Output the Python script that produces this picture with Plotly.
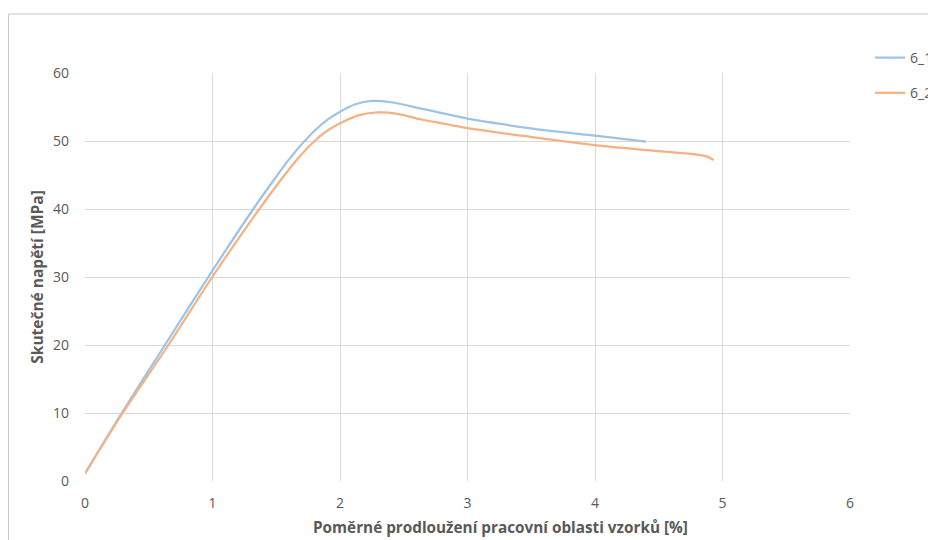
import plotly.graph_objects as go

# Data
strain_6_1 = [0, 0.288, 0.627, 0.967, 1.32, 1.482, 1.6, 1.8, 1.9, 2.0, 2.12, 2.25, 2.4, 2.63, 2.8, 3.0, 3.3, 3.6, 4.0, 4.2, 4.4]
stress_6_1 = [1.1, 10, 20, 30, 40, 44.3, 47.3, 51.5, 53.1, 54.3, 55.4, 55.9, 55.7, 54.8, 54.1, 53.3, 52.4, 51.6, 50.8, 50.35, 49.9]

strain_6_2 = [0, 0.295, 0.654, 0.998, 1.367, 1.537, 1.65, 1.8, 1.9, 2.0, 2.15, 2.30, 2.45, 2.63, 2.8, 3.0, 3.5, 4.0, 4.5, 4.8, 4.88, 4.93]
stress_6_2 = [1.1, 10, 20, 30, 40, 44.3, 47.0, 50, 51.5, 52.6, 53.8, 54.2, 54.0, 53.2, 52.6, 51.9, 50.6, 49.4, 48.5, 48.0, 47.7, 47.2]

series_names = ["6_1", "6_2"]
colors = ["#9DC3E6", "#F4B183"]

x_ticks = [0, 1, 2, 3, 4, 5, 6]
y_ticks = [0, 10, 20, 30, 40, 50, 60]

x_title = "Poměrné prodloužení pracovní oblasti vzorků [%]"
y_title = "Skutečné napětí [MPa]"

FONT = "Open Sans"
W, H = 928, 532
L, R, T, B = 77, 86, 65, 59
PW, PH = W - L - R, H - T - B

fig = go.Figure()
for name, xs, ys, col in zip(series_names, [strain_6_1, strain_6_2], [stress_6_1, stress_6_2], colors):
    fig.add_trace(go.Scatter(x=xs, y=ys, mode="lines", name=name, legendgroup=name,
                             line=dict(color=col, width=2.25, shape="spline", smoothing=0.8)))

fig.update_layout(
    width=W, height=H,
    margin=dict(l=L, r=R, t=T, b=B, autoexpand=False),
    paper_bgcolor="white", plot_bgcolor="white",
    font=dict(family=FONT, color="#595959", size=14),
    showlegend=True,
    legend=dict(xref="container", yref="container", x=862 / W, y=1 - 34 / H,
                xanchor="left", yanchor="top",
                traceorder="grouped", tracegroupgap=14,
                font=dict(size=14, color="#595959"), bgcolor="rgba(0,0,0,0)"),
    shapes=[dict(type="rect", xref="paper", yref="paper",
                 x0=(0.5 - L) / PW, x1=1.3, y0=-0.3, y1=1 + (T - 6) / PH,
                 line=dict(color="#c8c8c8", width=1), fillcolor="rgba(0,0,0,0)", layer="below")],
    annotations=[dict(text="<b>" + x_title + "</b>", xref="paper", yref="paper",
                      x=(500.5 - 8 - L) / PW, y=-(527 - 481) / PH, xanchor="center", yanchor="middle",
                      showarrow=False, font=dict(size=15.3, color="#595959"))],
)

fig.update_xaxes(range=[0, 6], tickvals=x_ticks, showgrid=True, gridcolor="#d9d9d9", gridwidth=1,
                 zeroline=False, showline=False, ticks="", ticklabelstandoff=12, automargin=False,
                 tickfont=dict(size=14, color="#595959"))
fig.update_yaxes(range=[0, 60], tickvals=y_ticks, showgrid=True, gridcolor="#d9d9d9", gridwidth=1,
                 zeroline=False, showline=False, ticks="", ticklabelstandoff=15, automargin=False,
                 tickfont=dict(size=14, color="#595959"),
                 title=dict(text="<b>" + y_title + "</b>", font=dict(size=15.5, color="#595959"), standoff=5))

fig.write_html("out.html")
